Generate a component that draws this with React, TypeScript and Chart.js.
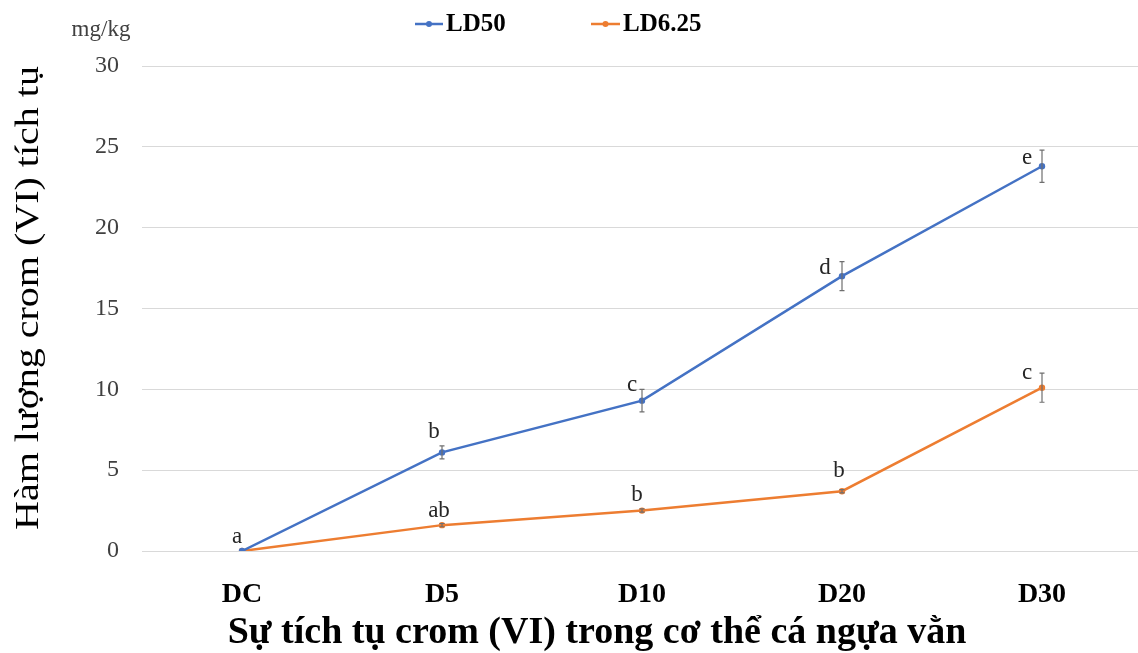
import React, { useEffect, useRef } from "react";
import { Chart, registerables } from "chart.js";

Chart.register(...registerables);

// Chromium (VI) accumulated in zebrafish, mg/kg
const categories = ["DC", "D5", "D10", "D20", "D30"];
const ld50Values = [0, 6.1, 9.3, 17.0, 23.8];
const ld50Errors = [0, 0.4, 0.7, 0.9, 1.0];
const ld50Letters = ["", "b", "c", "d", "e"];
const ld625Values = [0, 1.6, 2.5, 3.7, 10.1];
const ld625Errors = [0, 0.1, 0.1, 0.1, 0.9];
const ld625Letters = ["a", "ab", "b", "b", "c"];
const yTickValues = [0, 5, 10, 15, 20, 25, 30];

const seriesNames = ["LD50", "LD6.25"];
const seriesColors = ["#4472C4", "#ED7D31"];

const xTitle = "Sự tích tụ crom (VI) trong cơ thể cá ngựa vằn";
const yTitle = "Hàm lượng crom (VI) tích tụ";
const yUnit = "mg/kg";

// where each significance letter sits relative to its point (px)
const letterOffsets = [
  [[0, 0], [-8, -20], [-10, -16], [-17, -8], [-15, -8]],
  [[-5, -14], [-3, -14], [-5, -16], [-3, -20], [-15, -15]],
];

const SERIF = "'Liberation Serif', 'Times New Roman', serif";

const errorsBySeries = [ld50Errors, ld625Errors];
const lettersBySeries = [ld50Letters, ld625Letters];

const annotate = {
  id: "annotate",
  afterDatasetsDraw(chart: any) {
    const { ctx } = chart;
    const yScale = chart.scales.y;
    ctx.save();
    // error bars
    chart.data.datasets.forEach((ds: any, di: number) => {
      const meta = chart.getDatasetMeta(di);
      const errs = errorsBySeries[di];
      meta.data.forEach((pt: any, i: number) => {
        const e = errs[i];
        if (!e) return;
        const v = ds.data[i];
        const yTop = yScale.getPixelForValue(v + e);
        const yBot = yScale.getPixelForValue(v - e);
        ctx.strokeStyle = "#6f6f6f";
        ctx.lineWidth = 1.2;
        ctx.beginPath();
        ctx.moveTo(pt.x, yTop);
        ctx.lineTo(pt.x, yBot);
        ctx.moveTo(pt.x - 2.5, yTop);
        ctx.lineTo(pt.x + 2.5, yTop);
        ctx.moveTo(pt.x - 2.5, yBot);
        ctx.lineTo(pt.x + 2.5, yBot);
        ctx.stroke();
      });
    });
    // significance letters
    ctx.fillStyle = "#262626";
    ctx.font = `23px ${SERIF}`;
    ctx.textAlign = "center";
    ctx.textBaseline = "middle";
    chart.data.datasets.forEach((_ds: any, di: number) => {
      const meta = chart.getDatasetMeta(di);
      meta.data.forEach((pt: any, i: number) => {
        const t = lettersBySeries[di][i];
        if (!t) return;
        const [dx, dy] = letterOffsets[di][i];
        ctx.fillText(t, pt.x + dx, pt.y + dy);
      });
    });
    ctx.restore();
  },
  afterDraw(chart: any) {
    const { ctx } = chart;
    ctx.save();
    // unit above the y axis
    ctx.fillStyle = "#404040";
    ctx.font = `23px ${SERIF}`;
    ctx.textAlign = "center";
    ctx.textBaseline = "middle";
    ctx.fillText(yUnit, 101, 30);

    // y axis title (narrow setting)
    ctx.save();
    ctx.translate(29, 298);
    ctx.rotate(-Math.PI / 2);
    ctx.scale(1, 0.82);
    ctx.fillStyle = "#000";
    ctx.font = `40px ${SERIF}`;
    ctx.fillText(yTitle, 0, 0);
    ctx.restore();

    // x axis title
    ctx.fillStyle = "#000";
    ctx.font = `bold 38px ${SERIF}`;
    ctx.fillText(xTitle, 597, 633);

    // legend
    const items = [
      { x1: 415, x2: 443 },
      { x1: 591, x2: 620 },
    ];
    items.forEach((it, i) => {
      const y = 24;
      ctx.strokeStyle = seriesColors[i];
      ctx.lineWidth = 2.5;
      ctx.beginPath();
      ctx.moveTo(it.x1, y);
      ctx.lineTo(it.x2, y);
      ctx.stroke();
      ctx.fillStyle = seriesColors[i];
      ctx.beginPath();
      ctx.arc((it.x1 + it.x2) / 2, y, 3, 0, Math.PI * 2);
      ctx.fill();
      ctx.fillStyle = "#000";
      ctx.font = `bold 25px ${SERIF}`;
      ctx.textAlign = "left";
      ctx.fillText(seriesNames[i], it.x2 + 3, y + 1);
    });
    ctx.restore();
  },
};

export default function App() {
  const ref = useRef<HTMLCanvasElement | null>(null);

  useEffect(() => {
    if (!ref.current) return;
    const chart = new Chart(ref.current, {
      type: "line",
      data: {
        labels: categories,
        datasets: [
          {
            label: seriesNames[0],
            data: ld50Values,
            borderColor: seriesColors[0],
            backgroundColor: seriesColors[0],
            borderWidth: 2.5,
            pointRadius: 3.2,
            pointBorderWidth: 0,
            tension: 0,
          },
          {
            label: seriesNames[1],
            data: ld625Values,
            borderColor: seriesColors[1],
            backgroundColor: seriesColors[1],
            borderWidth: 2.5,
            pointRadius: 3.2,
            pointBorderWidth: 0,
            tension: 0,
          },
        ],
      },
      options: {
        responsive: false,
        animation: false,
        devicePixelRatio: 1,
        layout: { padding: { top: 66, right: 8, bottom: 0, left: 0 } },
        plugins: {
          legend: { display: false },
          tooltip: { enabled: false },
        },
        scales: {
          x: {
            offset: true,
            grid: { display: false, drawTicks: false },
            border: { display: false },
            ticks: {
              color: "#000",
              padding: 27,
              font: { family: SERIF, size: 28, weight: "bold" },
            },
            afterFit(scale: any) {
              scale.height = 102;
            },
          },
          y: {
            min: 0,
            max: 30,
            afterBuildTicks(scale: any) {
              scale.ticks = yTickValues.map((v) => ({ value: v }));
            },
            grid: { color: "#d9d9d9", lineWidth: 1, drawTicks: false },
            border: { display: false },
            ticks: {
              color: "#404040",
              padding: 23,
              font: { family: SERIF, size: 24 },
            },
            afterFit(scale: any) {
              scale.width = 142;
            },
          },
        },
      },
      plugins: [annotate],
    });
    return () => chart.destroy();
  }, []);

  return (
    <div
      style={{
        position: "absolute",
        left: 0,
        top: 0,
        width: 1138,
        height: 653,
        overflow: "hidden",
        background: "#fff",
      }}
    >
      <canvas ref={ref} width={1150} height={653} style={{ width: 1150, height: 653, display: "block" }} />
    </div>
  );
}
